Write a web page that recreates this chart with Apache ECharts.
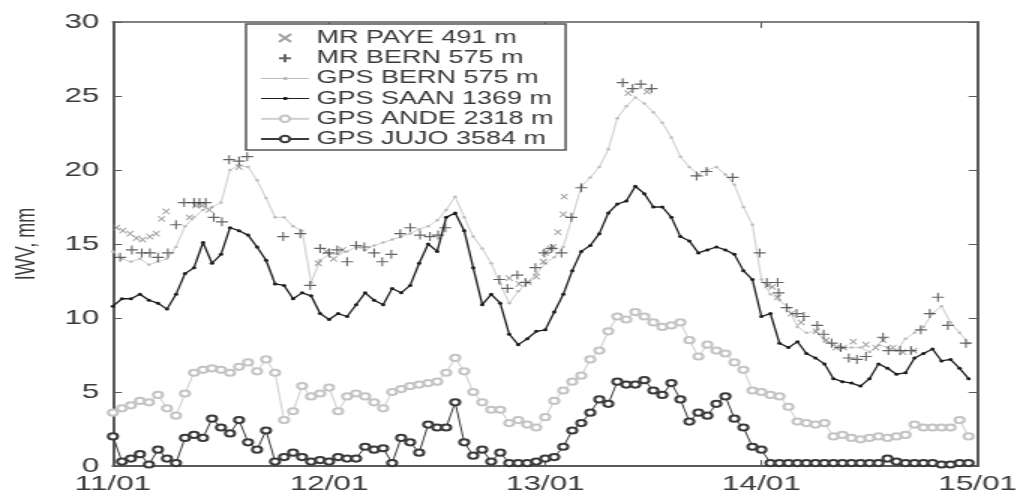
<!DOCTYPE html>
<html><head><meta charset="utf-8">
<script src="https://cdn.jsdelivr.net/npm/echarts@6/dist/echarts.min.js"></script>
<style>
html,body{margin:0;padding:0;background:#fff;overflow:hidden;}
#wrap{width:1021px;height:496px;overflow:hidden;}
#chart{width:681px;height:496px;transform:scaleX(1.5);transform-origin:0 0;}
</style></head><body>
<div id="wrap"><div id="chart"></div></div>
<script>
// x axis: hours since 11/01 00:00
const xTickLabels = ['11/01', '12/01', '13/01', '14/01', '15/01'];
const gpsHours = [
 0,1,2,3,4,5,6,7,8,9,10,11,12,13,14,15,16,17,18,19,20,21,22,23,
 24,25,26,27,28,29,30,31,32,33,34,35,36,37,38,39,40,41,42,43,44,45,46,47,
 48,49,50,51,52,53,54,55,56,57,58,59,60,61,62,63,64,65,66,67,68,69,70,71,
 72,73,74,75,76,77,78,79,80,81,82,83,84,85,86,87,88,89,90,91,92,93,94,95];

const gpsBern = [14.5,14.0,13.8,14.0,13.6,13.8,14.0,14.8,16.2,16.8,
 17.3,17.5,17.8,20.0,20.3,20.2,19.3,18.1,16.8,16.8,
 16.2,15.9,12.4,13.9,14.3,14.3,14.5,14.8,14.6,14.9,
 15.1,15.3,15.5,15.7,16.0,16.2,16.6,17.3,18.2,16.8,
 15.5,14.7,13.7,12.3,11.0,11.8,12.4,13.0,13.7,14.1,
 14.8,16.8,18.9,19.5,20.2,21.4,23.5,24.3,24.9,24.5,
 23.9,23.2,22.2,20.9,20.2,19.7,20.0,20.2,19.7,19.0,
 17.5,16.3,12.6,11.6,11.2,10.7,9.4,9.0,9.1,8.5,
 8.2,8.0,8.0,8.0,7.7,8.2,8.0,7.8,8.6,9.0,
 9.4,10.3,10.8,9.7,9.0,8.3];

const gpsSaan = [10.8,11.3,11.3,11.6,11.2,11.0,10.6,11.6,13.0,13.4,
 15.1,13.7,14.3,16.1,15.9,15.6,14.8,13.9,12.3,12.2,
 11.3,11.7,11.5,10.3,9.9,10.3,10.1,10.9,11.7,11.2,
 10.9,12.0,11.7,12.2,13.7,15.0,14.5,16.8,17.1,15.9,
 13.4,10.9,11.6,11.0,8.9,8.2,8.6,9.1,9.2,10.4,
 11.6,13.2,14.5,14.9,15.7,17.1,17.7,17.9,18.9,18.4,
 17.5,17.5,16.8,15.5,15.2,14.4,14.6,14.8,14.6,14.3,
 13.2,12.6,10.1,10.3,8.3,8.0,8.4,7.6,7.3,6.9,
 5.9,5.7,5.6,5.4,5.9,6.9,6.6,6.2,6.3,7.3,
 7.6,7.9,7.1,7.2,6.6,5.9];

const gpsAnde = [3.6,3.9,4.1,4.4,4.3,4.8,3.9,3.4,4.9,6.3,
 6.5,6.6,6.5,6.3,6.7,7.0,6.4,7.2,6.3,3.1,
 3.7,5.4,4.7,4.9,5.3,3.7,4.7,4.9,4.7,4.3,
 3.9,5.0,5.2,5.4,5.5,5.6,5.7,6.3,7.3,6.4,
 5.0,4.3,3.8,3.8,2.9,3.1,2.8,2.6,3.3,4.4,
 5.1,5.7,6.1,7.2,7.8,9.1,10.1,9.9,10.4,10.1,
 9.7,9.4,9.5,9.7,8.5,7.4,8.2,7.8,7.6,7.0,
 6.5,5.1,5.0,4.8,4.7,4.0,3.0,2.9,2.8,2.9,
 2.0,2.1,1.9,1.8,1.9,2.0,1.9,2.0,2.1,2.8,
 2.6,2.6,2.6,2.6,3.1,2.0];

const gpsJujo = [2.0,0.3,0.5,0.8,0.1,1.1,0.5,0.2,1.9,2.1,
 1.9,3.2,2.6,2.2,3.1,1.6,1.1,2.4,0.3,0.6,
 0.9,0.6,0.3,0.4,0.3,0.6,0.5,0.5,1.3,1.1,
 1.2,0.2,1.9,1.6,0.9,2.8,2.6,2.6,4.3,1.6,
 0.7,1.1,0.3,0.9,0.2,0.2,0.2,0.3,0.5,0.6,
 1.3,2.4,2.9,3.6,4.5,4.2,5.7,5.5,5.5,5.8,
 5.1,4.8,5.6,4.5,3.0,3.6,3.4,4.2,4.7,3.2,
 2.6,1.3,1.1,0.2,0.2,0.2,0.2,0.2,0.2,0.2,
 0.2,0.2,0.2,0.2,0.2,0.2,0.5,0.3,0.2,0.2,
 0.2,0.2,0.1,0.1,0.2,0.2];

const mrBernHours = [0.8,2.1,3.2,4.1,5.0,6.1,7.0,7.9,9.0,9.6,10.3,11.2,12.1,12.9,14.0,14.9,18.9,20.8,21.9,23.0,
 24.0,24.9,26.0,27.0,27.9,29.0,29.9,30.9,31.9,33.0,34.1,35.2,36.1,36.9,42.9,43.8,44.9,45.8,46.9,47.9,48.7,49.8,50.9,52.0,
 56.6,57.7,58.6,59.8,64.8,65.9,68.8,71.8,
 72.6,73.8,73.9,74.8,75.9,76.7,78.2,78.9,79.8,80.8,81.7,82.6,83.6,85.5,86.1,87.4,88.6,89.7,90.7,91.6,92.7,94.7];
const mrBernValues = [14.1,14.6,14.4,14.4,14.1,14.4,16.3,17.8,17.8,17.8,17.8,16.8,16.5,20.7,20.6,20.9,15.5,15.7,12.2,14.7,
 14.4,14.6,13.8,14.9,14.8,14.4,13.8,14.3,15.7,16.1,15.6,15.5,15.6,16.1,12.6,12.0,12.9,12.4,13.4,14.4,14.7,14.4,16.8,18.8,
 25.9,25.5,25.8,25.5,19.6,19.9,19.5,14.4,
 12.4,12.4,11.7,10.7,10.3,10.1,9.5,8.9,8.3,8.0,7.3,7.2,7.4,8.7,7.8,7.8,7.8,9.2,10.3,11.4,9.5,8.3];

const mrPayeHours = [0.4,1.1,1.9,2.6,3.3,4.1,4.8,5.4,5.9,8.5,9.2,9.9,10.7,14.0,22.8,
 23.7,24.5,25.5,44.0,45.1,46.1,47.0,47.8,48.0,48.6,48.9,49.4,50.0,50.1,
 57.2,59.3,
 72.7,73.2,73.8,75.3,76.4,78.1,79.2,80.3,81.1,82.2,83.6,84.7,85.5,86.6,87.7,88.9];
const mrPayeValues = [16.1,15.9,15.7,15.4,15.3,15.5,15.7,16.7,17.2,16.8,17.6,17.6,17.3,20.2,13.7,
 14.5,14.0,14.6,12.7,12.3,12.4,12.8,13.8,14.4,14.7,14.8,15.8,17.0,18.2,
 25.2,25.3,
 12.2,12.1,11.4,10.3,9.7,9.1,8.5,8.0,8.0,8.4,8.2,8.0,8.5,8.0,7.7,7.8];

const pairs = (xs, ys) => ys.map((v, i) => [xs[i], v]);

const FONT = '"Liberation Sans", Arial, sans-serif';
const axisColor = '#5a5a5a';
const labelColor = '#3a3a3a';
// legend icons: thin line with a tiny dot in the middle
const lineDotIcon = 'path://M0,1L32,1L32,2L0,2Z M15,0L17.5,0L17.5,3L15,3Z';

const chart = echarts.init(document.getElementById('chart'), null, {renderer: 'canvas'});
chart.setOption({
  animation: false,
  backgroundColor: '#fff',
  textStyle: {fontFamily: FONT},
  grid: {left: 75.3, right: 25, top: 22, bottom: 30, containLabel: false},
  legend: {
    orient: 'vertical', left: 164, top: 24,
    padding: [5, 8, 2, 9],
    backgroundColor: '#fff', borderColor: '#555', borderWidth: 1.5, borderRadius: 0,
    itemWidth: 32, itemHeight: 8, itemGap: 2.2,
    textStyle: {fontSize: 18, lineHeight: 18, color: labelColor, fontFamily: FONT},
    data: [
      {name: 'MR PAYE 491 m'},
      {name: 'MR BERN 575 m'},
      {name: 'GPS BERN 575 m', icon: lineDotIcon},
      {name: 'GPS SAAN 1369 m', icon: lineDotIcon},
      {name: 'GPS ANDE 2318 m'},
      {name: 'GPS JUJO 3584 m'}
    ]
  },
  xAxis: [{
    type: 'value', min: 0, max: 96, interval: 24,
    axisLine: {show: true, onZero: false, lineStyle: {color: axisColor, width: 2}},
    axisTick: {show: true, inside: true, length: 6, lineStyle: {color: axisColor, width: 1}},
    axisLabel: {margin: 8, fontSize: 21, color: labelColor, fontFamily: FONT,
      formatter: v => xTickLabels[Math.round(v / 24)]},
    splitLine: {show: false}
  }, {
    type: 'value', min: 0, max: 96, interval: 24, position: 'top',
    axisLine: {show: true, onZero: false, lineStyle: {color: axisColor, width: 1.5}},
    axisTick: {show: true, inside: true, length: 6, lineStyle: {color: axisColor, width: 1}},
    axisLabel: {show: false}, splitLine: {show: false}
  }],
  yAxis: [{
    type: 'value', min: 0, max: 30, interval: 5,
    name: 'IWV, mm', nameLocation: 'middle', nameGap: 48,
    nameTextStyle: {fontSize: 18, color: labelColor, fontFamily: FONT},
    axisLine: {show: true, onZero: false, lineStyle: {color: axisColor, width: 2}},
    axisTick: {show: true, inside: true, length: 6, lineStyle: {color: axisColor, width: 1}},
    axisLabel: {margin: 9, fontSize: 21, color: labelColor, fontFamily: FONT},
    splitLine: {show: false}
  }, {
    type: 'value', min: 0, max: 30, interval: 5, position: 'right',
    axisLine: {show: true, onZero: false, lineStyle: {color: axisColor, width: 2}},
    axisTick: {show: true, inside: true, length: 6, lineStyle: {color: axisColor, width: 1}},
    axisLabel: {show: false}, splitLine: {show: false}
  }],
  series: [
    {
      name: 'GPS BERN 575 m', type: 'line', data: pairs(gpsHours, gpsBern),
      symbol: 'circle', symbolSize: 2.5, showSymbol: true,
      lineStyle: {color: '#cdcdcd', width: 1},
      itemStyle: {color: '#bcbcbc'}, z: 2
    },
    {
      name: 'GPS ANDE 2318 m', type: 'line', data: pairs(gpsHours, gpsAnde),
      symbol: 'emptyCircle', symbolSize: 6.2, showSymbol: true,
      lineStyle: {color: '#cfcfcf', width: 1},
      itemStyle: {color: '#c4c4c4', borderWidth: 0.8}, z: 2
    },
    {
      name: 'MR PAYE 491 m', type: 'scatter', data: pairs(mrPayeHours, mrPayeValues),
      symbol: 'path://M0,0L10,10M10,0L0,10', symbolSize: [4.5, 5.5],
      itemStyle: {color: 'rgba(0,0,0,0)', borderColor: '#8a8a8a', borderWidth: 1}, z: 3
    },
    {
      name: 'MR BERN 575 m', type: 'scatter', data: pairs(mrBernHours, mrBernValues),
      symbol: 'path://M5,0L5,10M0,5L10,5', symbolSize: [8, 9],
      itemStyle: {color: 'rgba(0,0,0,0)', borderColor: '#3c3c3c', borderWidth: 1.1}, z: 4
    },
    {
      name: 'GPS SAAN 1369 m', type: 'line', data: pairs(gpsHours, gpsSaan),
      symbol: 'circle', symbolSize: 3, showSymbol: true,
      lineStyle: {color: '#1e1e1e', width: 1.3},
      itemStyle: {color: '#1e1e1e'}, z: 5
    },
    {
      name: 'GPS JUJO 3584 m', type: 'line', data: pairs(gpsHours, gpsJujo),
      symbol: 'emptyCircle', symbolSize: 6.2, showSymbol: true,
      lineStyle: {color: '#3a3a3a', width: 1},
      itemStyle: {color: '#3a3a3a', borderWidth: 0.8}, z: 5
    }
  ]
});
</script>
</body></html>
